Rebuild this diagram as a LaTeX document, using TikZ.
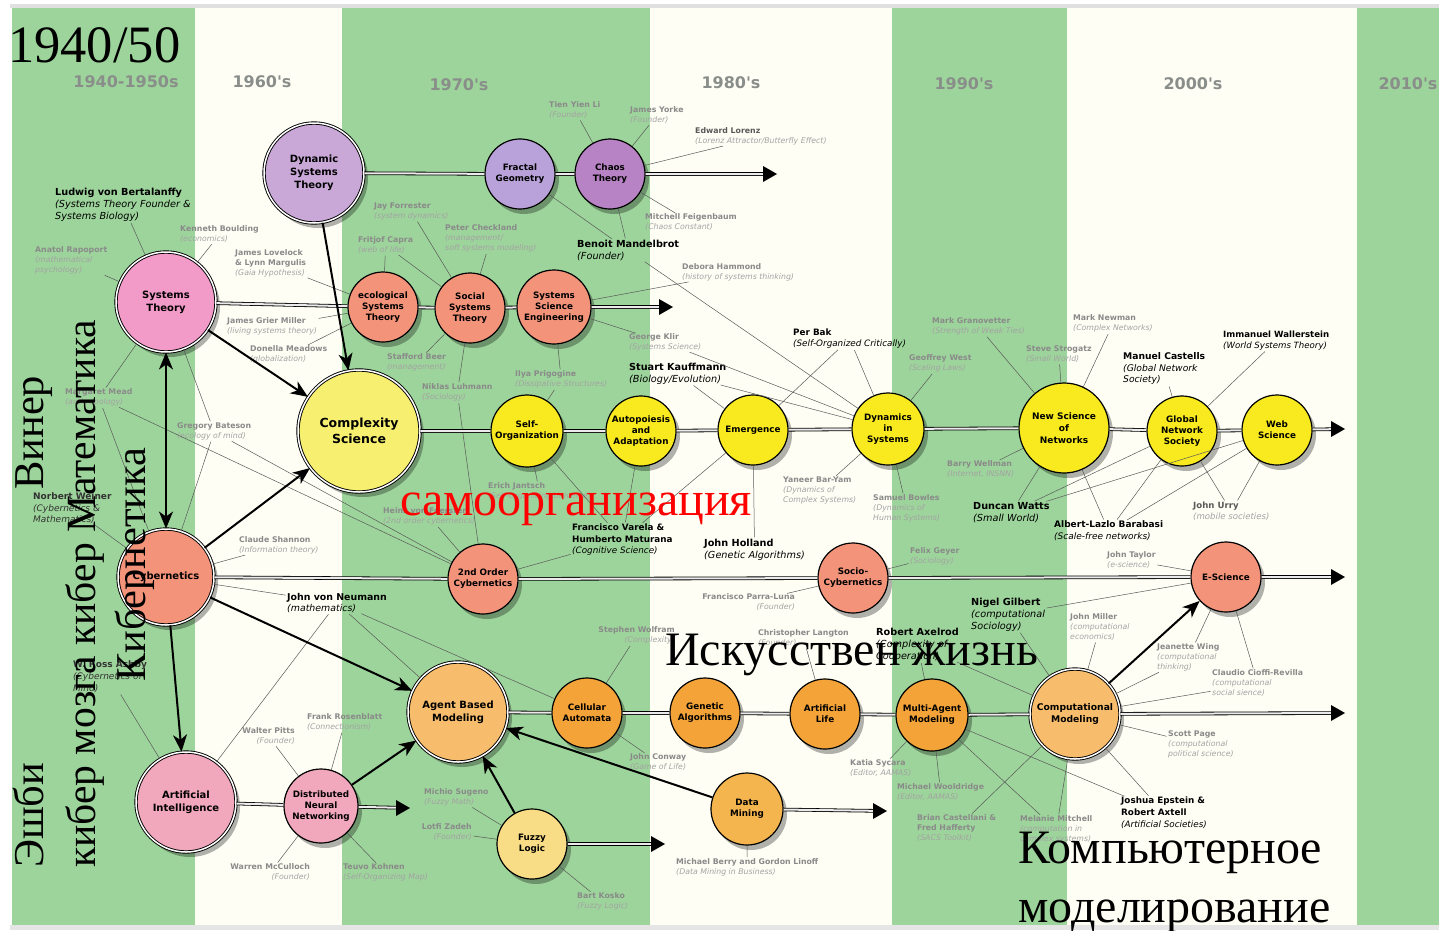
\documentclass[tikz,border=0pt]{standalone}
\usepackage{fontspec}
\setmainfont{Liberation Serif}
\newfontfamily\verd{DejaVu Sans}
\usepackage{xcolor}
\usepackage{tikz}
\usetikzlibrary{arrows.meta,shadows}
\definecolor{vertbande}{HTML}{9DD49B}
\definecolor{creme}{HTML}{FEFEF5}
\definecolor{grisdec}{HTML}{8A8E8A}
\definecolor{mauvedyn}{HTML}{C9A8D8}
\definecolor{mauvefrac}{HTML}{B8A2D9}
\definecolor{mauvechaos}{HTML}{B883C4}
\definecolor{rosesys}{HTML}{F39BC8}
\definecolor{roseai}{HTML}{F1A8BC}
\definecolor{saumon}{HTML}{F3947A}
\definecolor{jaunecplx}{HTML}{F7EF6F}
\definecolor{jaunevif}{HTML}{F8EA1F}
\definecolor{orangeca}{HTML}{F4A339}
\definecolor{orangeclair}{HTML}{F8BD6C}
\definecolor{jaunefuzzy}{HTML}{F9DC86}
\definecolor{orangedm}{HTML}{F5B54E}
\definecolor{nomgris}{HTML}{8A8A8A}
\definecolor{descgris}{HTML}{A3A3A3}

\tikzset{
  boule/.style={circle, draw=black, line width=1.2pt, inner sep=0pt, align=center,
    font=\verd\bfseries\fontsize{8.8}{11}\selectfont,
    drop shadow={shadow xshift=4pt, shadow yshift=-5pt, opacity=.3, fill=black}},
  grosseboule/.style={boule, line width=0.9pt, double=white, double distance=1.5pt,
    font=\verd\bfseries\fontsize{10}{12.8}\selectfont},
  decennie/.style={inner sep=0pt, text=grisdec, font=\verd\bfseries\fontsize{16}{18}\selectfont},
  qui/.style={inner sep=0pt, align=left, anchor=north west, yshift=4.2pt,
    font=\verd\fontsize{9.7}{12}\selectfont, text=black},
  quig/.style={inner sep=0pt, align=left, anchor=north west, yshift=3.3pt,
    font=\verd\fontsize{7.8}{10}\selectfont, text=nomgris},
  lien/.style={black!65, line width=0.5pt, shorten <=1.5pt},
  tl/.style={draw=black, line width=0.8pt, double=black!8, double distance=2pt, shorten >=8pt},
  fleche/.style={line width=2pt, -{Stealth[length=17pt,width=14pt,inset=5pt]}},
  fleche2/.style={line width=2pt, {Stealth[length=17pt,width=14pt,inset=5pt]}-{Stealth[length=17pt,width=14pt,inset=5pt]}},
  ru/.style={inner sep=0pt, anchor=base west, font=\fontsize{48}{52}\selectfont},
  ruv/.style={ru, rotate=90, font=\fontsize{42.5}{46}\selectfont}
}
\newcommand{\ds}[1]{\textit{#1}}
\newcommand{\dg}[1]{\textcolor{descgris}{\textit{#1}}}

\begin{document}
\begin{tikzpicture}[x=1pt,y=-1pt]
  \useasboundingbox (0,0) rectangle (1439,930);
  % fond et bandes des decennies
  \fill[white] (0,0) rectangle (1439,930);
  \fill[creme] (12,8) rectangle (1439,925);
  \fill[black!12] (10,4) rectangle (1439,8);
  \fill[black!10] (10,925) rectangle (1439,930);
  \fill[vertbande] (12,8) rectangle (195,925);
  \fill[vertbande] (342,8) rectangle (650,925);
  \fill[vertbande] (892,8) rectangle (1067,925);
  \fill[vertbande] (1357,8) rectangle (1439,925);

  % titres des decennies
  \node[decennie] (dec40) at (126,82) {1940-1950s};
  \node[decennie] (dec60) at (262,82) {1960's};
  \node[decennie] (dec70) at (459,85) {1970's};
  \node[decennie] (dec80) at (731,83) {1980's};
  \node[decennie] (dec90) at (964,84) {1990's};
  \node[decennie] (dec00) at (1193,84) {2000's};
  \node[decennie] (dec10) at (1408,84) {2010's};

  % bouts des lignes du temps
  \coordinate (finA) at (777,174);
  \coordinate (finB) at (673,307);
  \coordinate (finC) at (1345,429);
  \coordinate (finD) at (1345,577);
  \coordinate (finE) at (1345,713);
  \coordinate (finF) at (410,808);
  \coordinate (finG) at (665,844);
  \coordinate (finH) at (887,811);

  % les domaines
  \node[grosseboule, fill=mauvedyn, minimum size=100pt] (dyn) at (314,173) {Dynamic\\Systems\\Theory};
  \node[boule, fill=mauvefrac, minimum size=70pt] (fract) at (520,174) {Fractal\\Geometry};
  \node[boule, fill=mauvechaos, minimum size=70pt] (chaos) at (610,174) {Chaos\\Theory};
  \node[grosseboule, fill=rosesys, minimum size=100pt] (systh) at (166,302) {Systems\\Theory};
  \node[boule, fill=saumon, minimum size=70pt] (eco) at (383,307) {ecological\\Systems\\Theory};
  \node[boule, fill=saumon, minimum size=70pt] (soc) at (470,308) {Social\\Systems\\Theory};
  \node[boule, fill=saumon, minimum size=74pt] (sse) at (554,307) {Systems\\Science\\Engineering};
  \node[grosseboule, fill=jaunecplx, minimum size=122pt, font=\verd\bfseries\fontsize{12.5}{16}\selectfont] (cplx) at (359,431) {Complexity\\Science};
  \node[boule, fill=jaunevif, minimum size=72pt] (selforg) at (527,431) {Self-\\Organization};
  \node[boule, fill=jaunevif, minimum size=70pt] (autop) at (641,431) {Autopoiesis\\and\\Adaptation};
  \node[boule, fill=jaunevif, minimum size=70pt] (emerg) at (753,430) {Emergence};
  \node[boule, fill=jaunevif, minimum size=72pt] (dynsys) at (888,429) {Dynamics\\in\\Systems};
  \node[boule, fill=jaunevif, minimum size=90pt, font=\verd\bfseries\fontsize{9}{12}\selectfont] (newsci) at (1064,428) {New Science\\of\\Networks};
  \node[boule, fill=jaunevif, minimum size=70pt] (gns) at (1182,431) {Global\\Network\\Society};
  \node[boule, fill=jaunevif, minimum size=70pt] (web) at (1277,430) {Web\\Science};
  \node[grosseboule, fill=saumon, minimum size=96pt] (cyb) at (166,577) {Cybernetics};
  \node[boule, fill=saumon, minimum size=70pt] (second) at (483,579) {2nd Order\\Cybernetics};
  \node[boule, fill=saumon, minimum size=70pt] (sociocyb) at (853,578) {Socio-\\Cybernetics};
  \node[boule, fill=saumon, minimum size=70pt] (escience) at (1226,577) {E-Science};
  \node[grosseboule, fill=orangeclair, minimum size=100pt] (abm) at (458,712) {Agent Based\\Modeling};
  \node[boule, fill=orangeca, minimum size=70pt] (ca) at (587,713) {Cellular\\Automata};
  \node[boule, fill=orangeca, minimum size=70pt] (ga) at (705,713) {Genetic\\Algorithms};
  \node[boule, fill=orangeca, minimum size=70pt] (alife) at (825,714) {Artificial\\Life};
  \node[boule, fill=orangeca, minimum size=72pt] (mam) at (932,715) {Multi-Agent\\Modeling};
  \node[grosseboule, fill=orangeclair, minimum size=90pt, font=\verd\bfseries\fontsize{9.2}{12}\selectfont] (compmod) at (1075,714) {Computational\\Modeling};
  \node[grosseboule, fill=roseai, minimum size=100pt] (ai) at (186,802) {Artificial\\Intelligence};
  \node[boule, fill=roseai, minimum size=74pt] (dnn) at (321,806) {Distributed\\Neural\\Networking};
  \node[boule, fill=jaunefuzzy, minimum size=70pt] (fuzzy) at (532,844) {Fuzzy\\Logic};
  \node[boule, fill=orangedm, minimum size=72pt] (dmin) at (747,809) {Data\\Mining};

  % les personnes, en noir
  \node[qui] (ludwig) at (55,192) {\textbf{Ludwig von Bertalanffy}\\\ds{(Systems Theory Founder \&}\\\ds{Systems Biology)}};
  \node[qui] (mandel) at (577,244) {\textbf{Benoit Mandelbrot}\\\ds{(Founder)}};
  \node[qui] (kauff) at (629,367) {\textbf{Stuart Kauffmann}\\\ds{(Biology/Evolution)}};
  \node[qui, font=\verd\fontsize{8.8}{11}\selectfont] (perbak) at (793,333) {\textbf{Per Bak}\\\ds{(Self-Organized Critically)}};
  \node[qui, font=\verd\fontsize{8.8}{11.5}\selectfont] (varela) at (572,528) {\textbf{Francisco Varela \&}\\\textbf{Humberto Maturana}\\\ds{(Cognitive Science)}};
  \node[qui] (holland) at (704,543) {\textbf{John Holland}\\\ds{(Genetic Algorithms)}};
  \node[qui] (watts) at (973,506) {\textbf{Duncan Watts}\\\ds{(Small World)}};
  \node[qui, font=\verd\fontsize{9}{12}\selectfont] (barabasi) at (1054,525) {\textbf{Albert-Lazlo Barabasi}\\\ds{(Scale-free networks)}};
  \node[qui, font=\verd\fontsize{9.2}{11.5}\selectfont] (castells) at (1123,357) {\textbf{Manuel Castells}\\\ds{(Global Network}\\\ds{Society)}};
  \node[qui, font=\verd\fontsize{8.6}{11}\selectfont] (waller) at (1223,335) {\textbf{Immanuel Wallerstein}\\\ds{(World Systems Theory)}};
  \node[qui] (gilbert) at (971,602) {\textbf{Nigel Gilbert}\\\ds{(computational}\\\ds{Sociology)}};
  \node[qui] (axelrod) at (876,632) {\textbf{Robert Axelrod}\\\ds{(Complexity of}\\\ds{Cooperation)}};
  \node[qui, font=\verd\fontsize{8.8}{12}\selectfont] (epstein) at (1121,801) {\textbf{Joshua Epstein \&}\\\textbf{Robert Axtell}\\\ds{(Artificial Societies)}};
  \node[qui, text=black!80, font=\verd\fontsize{9}{11.5}\selectfont] (wiener) at (33,497) {\textbf{Norbert Weiner}\\\ds{(Cybernetics \&}\\\ds{Mathematics)}};
  \node[qui, text=black!80, font=\verd\fontsize{9}{12}\selectfont] (ashby) at (73,665) {\textbf{W. Ross Ashby}\\\ds{(Cybernetics of}\\\ds{Mind)}};
  \node[qui, font=\verd\fontsize{9.4}{11.5}\selectfont] (neumann) at (287,597) {\textbf{John von Neumann}\\\ds{(mathematics)}};

  % les personnes, en gris
  \node[quig] (boulding) at (180,229) {\textbf{Kenneth Boulding}\\\dg{(economics)}};
  \node[quig] (rapoport) at (35,250) {\textbf{Anatol Rapoport}\\\dg{(mathematical}\\\dg{psychology)}};
  \node[quig] (lovelock) at (235,253) {\textbf{James Lovelock}\\\textbf{\& Lynn Margulis}\\\dg{(Gaia Hypothesis)}};
  \node[quig] (tienli) at (549,105) {\textbf{Tien Yien Li}\\\dg{(Founder)}};
  \node[quig] (yorke) at (630,110) {\textbf{James Yorke}\\\dg{(Founder)}};
  \node[quig, text=black!65] (lorenz) at (695,131) {\textbf{Edward Lorenz}\\\dg{(Lorenz Attractor/Butterfly Effect)}};
  \node[quig] (feigen) at (645,217) {\textbf{Mitchell Feigenbaum}\\\dg{(Chaos Constant)}};
  \node[quig] (forrester) at (374,206) {\textbf{Jay Forrester}\\\dg{(system dynamics)}};
  \node[quig] (capra) at (358,240) {\textbf{Fritjof Capra}\\\dg{(web of life)}};
  \node[quig] (checkland) at (445,228) {\textbf{Peter Checkland}\\\dg{(management/}\\\dg{soft systems modeling)}};
  \node[quig] (hammond) at (682,267) {\textbf{Debora Hammond}\\\dg{(history of systems thinking)}};
  \node[quig] (miller) at (227,321) {\textbf{James Grier Miller}\\\dg{(living systems theory)}};
  \node[quig] (meadows) at (250,349) {\textbf{Donella Meadows}\\\dg{(globalization)}};
  \node[quig] (beer) at (387,357) {\textbf{Stafford Beer}\\\dg{(management)}};
  \node[quig] (luhmann) at (422,387) {\textbf{Niklas Luhmann}\\\dg{(Sociology)}};
  \node[quig] (klir) at (629,337) {\textbf{George Klir}\\\dg{(Systems Science)}};
  \node[quig] (prigogine) at (515,374) {\textbf{Ilya Prigogine}\\\dg{(Dissipative Structures)}};
  \node[quig] (mead) at (65,392) {\textbf{Margaret Mead}\\\dg{(anthropology)}};
  \node[quig] (bateson) at (177,426) {\textbf{Gregory Bateson}\\\dg{(ecology of mind)}};
  \node[quig] (jantsch) at (488,486) {\textbf{Erich Jantsch}\\\dg{(Self-Organizing Universe)}};
  \node[quig] (foerster) at (383,511) {\textbf{Heinz von Foerster}\\\dg{(2nd order cybernetics)}};
  \node[quig] (shannon) at (239,540) {\textbf{Claude Shannon}\\\dg{(Information theory)}};
  \node[quig] (baryam) at (783,480) {\textbf{Yaneer Bar-Yam}\\\dg{(Dynamics of}\\\dg{Complex Systems)}};
  \node[quig] (bowles) at (873,498) {\textbf{Samuel Bowles}\\\dg{(Dynamics of}\\\dg{Human Systems)}};
  \node[quig] (west) at (909,358) {\textbf{Geoffrey West}\\\dg{(Scaling Laws)}};
  \node[quig] (granov) at (932,321) {\textbf{Mark Granovetter}\\\dg{(Strength of Weak Ties)}};
  \node[quig] (strogatz) at (1026,349) {\textbf{Steve Strogatz}\\\dg{(Small World)}};
  \node[quig] (newman) at (1073,318) {\textbf{Mark Newman}\\\dg{(Complex Networks)}};
  \node[quig] (wellman) at (947,464) {\textbf{Barry Wellman}\\\dg{(Internet, INSNN)}};
  \node[quig, text=black!65, font=\verd\fontsize{8.6}{11.5}\selectfont] (urry) at (1193,505) {\textbf{John Urry}\\\dg{(mobile societies)}};
  \node[quig] (geyer) at (910,551) {\textbf{Felix Geyer}\\\dg{(Sociology)}};
  \node[quig, anchor=north east, align=right] (parra) at (795,597) {\textbf{Francisco Parra-Luna}\\\dg{(Founder)}};
  \node[quig] (taylor) at (1107,555) {\textbf{John Taylor}\\\dg{(e-science)}};
  \node[quig] (jmiller) at (1070,617) {\textbf{John Miller}\\\dg{(computational}\\\dg{economics)}};
  \node[quig] (wing) at (1157,647) {\textbf{Jeanette Wing}\\\dg{(computational}\\\dg{thinking)}};
  \node[quig] (cioffi) at (1212,673) {\textbf{Claudio Cioffi-Revilla}\\\dg{(computational}\\\dg{social sience)}};
  \node[quig] (page) at (1168,734) {\textbf{Scott Page}\\\dg{(computational}\\\dg{political science)}};
  \node[quig] (mitchell) at (1020,819) {\textbf{Melanie Mitchell}\\\dg{(computation in}\\\dg{complex systems)}};
  \node[quig] (castellani) at (917,818) {\textbf{Brian Castellani \&}\\\textbf{Fred Hafferty}\\\dg{(SACS Toolkit)}};
  \node[quig] (wooldridge) at (897,787) {\textbf{Michael Wooldridge}\\\dg{(Editor, AAMAS)}};
  \node[quig] (sycara) at (850,763) {\textbf{Katia Sycara}\\\dg{(Editor, AAMAS)}};
  \node[quig] (langton) at (758,633) {\textbf{Christopher Langton}\\\dg{(Founder)}};
  \node[quig, anchor=north east, align=right] (wolfram) at (675,630) {\textbf{Stephen Wolfram}\\\dg{(Complexity)}};
  \node[quig] (conway) at (630,757) {\textbf{John Conway}\\\dg{(Game of Life)}};
  \node[quig] (berry) at (676,862) {\textbf{Michael Berry and Gordon Linoff}\\\dg{(Data Mining in Business)}};
  \node[quig] (sugeno) at (424,792) {\textbf{Michio Sugeno}\\\dg{(Fuzzy Math)}};
  \node[quig, anchor=north east, align=right] (zadeh) at (472,827) {\textbf{Lotfi Zadeh}\\\dg{(Founder)}};
  \node[quig] (kosko) at (577,896) {\textbf{Bart Kosko}\\\dg{(Fuzzy Logic)}};
  \node[quig] (kohnen) at (343,867) {\textbf{Teuvo Kohnen}\\\dg{(Self-Organizing Map)}};
  \node[quig, anchor=north east, align=right] (mcculloch) at (310,867) {\textbf{Warren McCulloch}\\\dg{(Founder)}};
  \node[quig, anchor=north east, align=right] (pitts) at (295,731) {\textbf{Walter Pitts}\\\dg{(Founder)}};
  \node[quig] (rosenblatt) at (307,717) {\textbf{Frank Rosenblatt}\\\dg{(Connectionism)}};

  % liens fins personne -> domaine
  \draw[lien] (ludwig) -- (systh);
  \draw[lien] (boulding) -- (systh);
  \draw[lien] (rapoport) -- (systh);
  \draw[lien] (lovelock) -- (eco);
  \draw[lien] (tienli) -- (chaos);
  \draw[lien] (yorke) -- (chaos);
  \draw[lien] (lorenz) -- (chaos);
  \draw[lien] (feigen) -- (chaos);
  \draw[lien] (forrester) -- (soc);
  \draw[lien] (capra) -- (eco);
  \draw[lien] (capra) -- (soc);
  \draw[lien] (checkland) -- (soc);
  \draw[lien] (mandel) -- (fract);
  \draw[lien] (mandel) -- (chaos);
  \draw[lien] (mandel) -- (dynsys);
  \draw[lien] (hammond) -- (sse);
  \draw[lien] (miller) -- (eco);
  \draw[lien] (meadows) -- (eco);
  \draw[lien] (beer) -- (soc);
  \draw[lien] (luhmann) -- (soc);
  \draw[lien] (luhmann) -- (second);
  \draw[lien] (klir) -- (sse);
  \draw[lien] (klir) -- (dynsys);
  \draw[lien] (prigogine) -- (sse);
  \draw[lien] (prigogine) -- (selforg);
  \draw[lien] (kauff) -- (emerg);
  \draw[lien] (kauff) -- (dynsys);
  \draw[lien] (perbak) -- (emerg);
  \draw[lien] (perbak) -- (dynsys);
  \draw[lien] (mead) -- (systh);
  \draw[lien] (mead) -- (cyb);
  \draw[lien] (mead) -- (second);
  \draw[lien] (bateson) -- (systh);
  \draw[lien] (bateson) -- (cyb);
  \draw[lien] (bateson) -- (second);
  \draw[lien] (wiener) -- (cyb);
  \draw[lien] (shannon) -- (cyb);
  \draw[lien] (neumann) -- (cyb);
  \draw[lien] (neumann) -- (abm);
  \draw[lien] (neumann) -- (ca);
  \draw[lien] (neumann) -- (ai);
  \draw[lien] (jantsch) -- (selforg);
  \draw[lien] (foerster) -- (second);
  \draw[lien] (varela) -- (second);
  \draw[lien] (varela) -- (selforg);
  \draw[lien] (varela) -- (autop);
  \draw[lien] (varela) -- (emerg);
  \draw[lien] (holland) -- (emerg);
  \draw[lien] (baryam) -- (dynsys);
  \draw[lien] (bowles) -- (dynsys);
  \draw[lien] (west) -- (dynsys);
  \draw[lien] (granov) -- (newsci);
  \draw[lien] (strogatz) -- (newsci);
  \draw[lien] (newman) -- (newsci);
  \draw[lien] (wellman) -- (newsci);
  \draw[lien] (watts) -- (newsci);
  \draw[lien] (watts) -- (gns);
  \draw[lien] (watts) -- (web);
  \draw[lien] (barabasi) -- (newsci);
  \draw[lien] (barabasi) -- (gns);
  \draw[lien] (barabasi) -- (web);
  \draw[lien] (castells) -- (gns);
  \draw[lien] (waller) -- (gns);
  \draw[lien] (urry) -- (gns);
  \draw[lien] (urry) -- (web);
  \draw[lien] (geyer) -- (sociocyb);
  \draw[lien] (parra) -- (sociocyb);
  \draw[lien] (taylor) -- (escience);
  \draw[lien] (gilbert) -- (escience);
  \draw[lien] (gilbert) -- (compmod);
  \draw[lien] (axelrod) -- (mam);
  \draw[lien] (axelrod) -- (compmod);
  \draw[lien] (jmiller) -- (compmod);
  \draw[lien] (wing) -- (escience);
  \draw[lien] (wing) -- (compmod);
  \draw[lien] (cioffi) -- (escience);
  \draw[lien] (cioffi) -- (compmod);
  \draw[lien] (page) -- (compmod);
  \draw[lien] (epstein) -- (compmod);
  \draw[lien] (epstein) -- (mam);
  \draw[lien] (mitchell) -- (compmod);
  \draw[lien] (mitchell) -- (mam);
  \draw[lien] (castellani) -- (compmod);
  \draw[lien] (wooldridge) -- (mam);
  \draw[lien] (sycara) -- (mam);
  \draw[lien] (langton) -- (alife);
  \draw[lien] (wolfram) -- (ca);
  \draw[lien] (conway) -- (ca);
  \draw[lien] (berry) -- (dmin);
  \draw[lien] (sugeno) -- (fuzzy);
  \draw[lien] (zadeh) -- (fuzzy);
  \draw[lien] (kosko) -- (fuzzy);
  \draw[lien] (kohnen) -- (dnn);
  \draw[lien] (mcculloch) -- (dnn);
  \draw[lien] (pitts) -- (dnn);
  \draw[lien] (rosenblatt) -- (dnn);
  \draw[lien] (ashby) -- (ai);

  % lignes du temps
  \draw[tl] (dyn) -- (fract) -- (chaos) -- (finA);
  \draw[tl] (systh) -- (eco) -- (soc) -- (sse) -- (finB);
  \draw[tl] (cplx) -- (selforg) -- (autop) -- (emerg) -- (dynsys) -- (newsci) -- (gns) -- (web) -- (finC);
  \draw[tl] (cyb) -- (second) -- (sociocyb) -- (escience) -- (finD);
  \draw[tl] (abm) -- (ca) -- (ga) -- (alife) -- (mam) -- (compmod) -- (finE);
  \draw[tl] (ai) -- (dnn) -- (finF);
  \draw[tl] (fuzzy) -- (finG);
  \draw[tl] (dmin) -- (finH);
  \fill (finA) -- ++(-14,-8) -- ++(0,16) -- cycle;
  \fill (finB) -- ++(-14,-8) -- ++(0,16) -- cycle;
  \fill (finC) -- ++(-14,-8) -- ++(0,16) -- cycle;
  \fill (finD) -- ++(-14,-8) -- ++(0,16) -- cycle;
  \fill (finE) -- ++(-14,-8) -- ++(0,16) -- cycle;
  \fill (finF) -- ++(-14,-8) -- ++(0,16) -- cycle;
  \fill (finG) -- ++(-14,-8) -- ++(0,16) -- cycle;
  \fill (finH) -- ++(-14,-8) -- ++(0,16) -- cycle;

  % grosses fleches d'influence
  \draw[fleche] (dyn) -- (cplx);
  \draw[fleche] (systh) -- (cplx);
  \draw[fleche2] (systh) -- (cyb);
  \draw[fleche] (cyb) -- (cplx);
  \draw[fleche] (cyb) -- (ai);
  \draw[fleche] (cyb) -- (abm);
  \draw[fleche] (dnn) -- (abm);
  \draw[fleche] (fuzzy) -- (abm);
  \draw[fleche] (dmin) -- (abm);
  \draw[fleche] (compmod) -- (escience);

  % annotations en russe par dessus
  \node[ru, font=\fontsize{52.5}{56}\selectfont] (t1940) at (8,62) {1940/50};
  \node[ruv] (tviner) at (43,490) {Винер};
  \node[ruv, font=\fontsize{41.6}{45}\selectfont] (tkiber) at (95,868) {кибер мозга кибер Математика};
  \node[ruv] (tkyb) at (145,682) {Кибернетика};
  \node[ruv] (teshbi) at (43,868) {Эшби};
  \node[ru, text=red] (tsamo) at (400,515) {самоорганизация};
  \node[ru] (tiskus) at (665,665) {Искусствен жизнь};
  \node[ru] (tkomp) at (1018,863) {Компьютерное};
  \node[ru] (tmodel) at (1018,922) {моделирование};
\end{tikzpicture}
\end{document}
